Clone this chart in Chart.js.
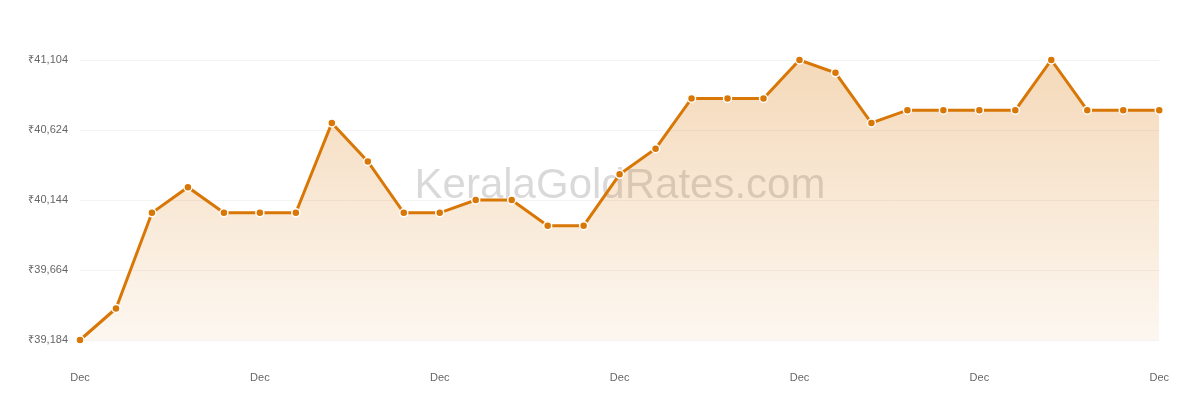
<!DOCTYPE html>
<html>
<head>
<meta charset="utf-8">
<script src="https://cdn.jsdelivr.net/npm/chart.js@4"></script>
<style>
html,body{margin:0;padding:0;background:#fff;}
#wrap{width:1200px;height:400px;position:relative;}
</style>
</head>
<body>
<div id="wrap"><canvas id="c"></canvas></div>
<script>
const dayLabels = ['Dec','Dec','Dec','Dec','Dec','Dec','Dec','Dec','Dec','Dec','Dec','Dec','Dec','Dec','Dec','Dec','Dec','Dec','Dec','Dec','Dec','Dec','Dec','Dec','Dec','Dec','Dec','Dec','Dec','Dec','Dec'];
const goldRates = [39184, 39400, 40056, 40232, 40056, 40056, 40056, 40672, 40408, 40056, 40056, 40144, 40144, 39968, 39968, 40320, 40496, 40840, 40840, 40840, 41104, 41016, 40672, 40760, 40760, 40760, 40760, 41104, 40760, 40760, 40760];
const yTicks = [39184, 39664, 40144, 40624, 41104];
const watermarkText = 'KeralaGoldRates.com';

const watermark = {
  id: 'watermark',
  beforeDatasetsDraw(chart) {
    const {ctx} = chart;
    ctx.save();
    ctx.font = '42px "Liberation Sans", Arial, sans-serif';
    ctx.fillStyle = 'rgba(0,0,0,0.15)';
    ctx.textAlign = 'center';
    ctx.textBaseline = 'middle';
    ctx.fillText(watermarkText, 620, 186);
    ctx.restore();
  }
};

const ctx = document.getElementById('c').getContext('2d');
const grad = ctx.createLinearGradient(0, 60, 0, 340);
grad.addColorStop(0, 'rgba(217,119,6,0.28)');
grad.addColorStop(1, 'rgba(217,119,6,0.06)');

new Chart(ctx, {
  type: 'line',
  data: {
    labels: dayLabels,
    datasets: [{
      data: goldRates,
      borderColor: '#d97706',
      borderWidth: 3,
      backgroundColor: grad,
      fill: 'start',
      tension: 0,
      pointRadius: 4,
      pointBackgroundColor: '#d97706',
      pointBorderColor: '#ffffff',
      pointBorderWidth: 1.5,
      clip: false
    }]
  },
  options: {
    responsive: true,
    maintainAspectRatio: false,
    animation: false,
    layout: { padding: { top: 60, right: 40, left: 0, bottom: 0 } },
    plugins: { legend: { display: false }, tooltip: { enabled: false } },
    scales: {
      x: {
        type: 'category',
        offset: false,
        grid: { display: false, drawTicks: false },
        border: { display: false },
        ticks: {
          autoSkip: false,
          maxRotation: 0,
          padding: 31,
          color: '#666',
          font: { family: '"Liberation Sans", Arial, sans-serif', size: 11 },
          callback: (v, i) => (i % 5 === 0 ? dayLabels[i] : null)
        },
        afterFit: (axis) => { axis.height = 60; }
      },
      y: {
        min: yTicks[0],
        max: yTicks[yTicks.length - 1],
        afterBuildTicks: (axis) => { axis.ticks = yTicks.map(v => ({ value: v })); },
        grid: { color: '#f3f3f3', drawTicks: false, lineWidth: 1 },
        border: { display: false },
        ticks: {
          padding: 12,
          color: '#666',
          font: { family: '"Liberation Sans", Arial, sans-serif', size: 11 },
          callback: (v) => '₹' + Number(v).toLocaleString('en-US')
        },
        afterFit: (axis) => { axis.width = 80; }
      }
    }
  },
  plugins: [watermark]
});
</script>
</body>
</html>
